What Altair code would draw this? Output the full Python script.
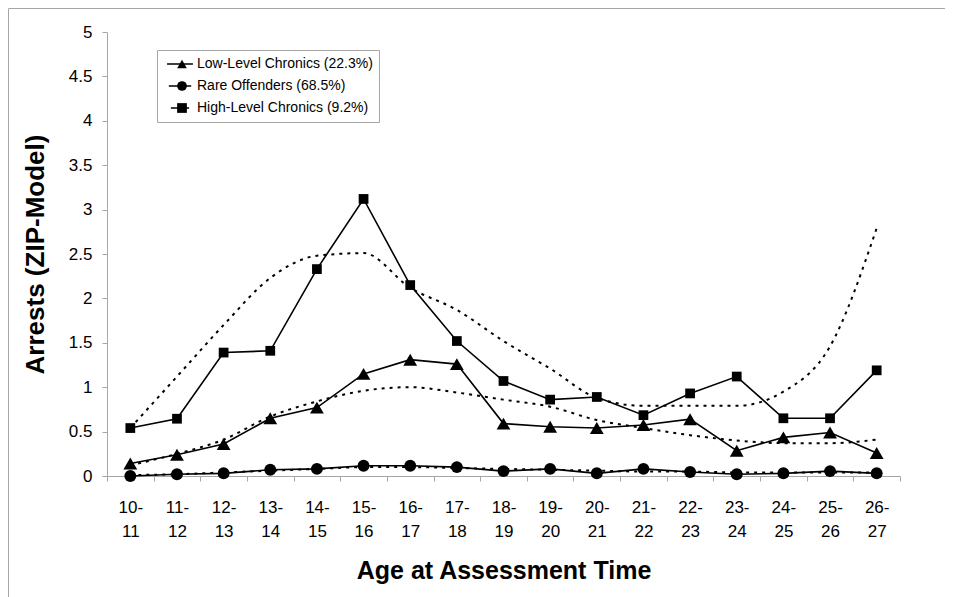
import altair as alt
import pandas as pd

categories = ["10-11", "11-12", "12-13", "13-14", "14-15", "15-16", "16-17", "17-18",
              "18-19", "19-20", "20-21", "21-22", "22-23", "23-24", "24-25", "25-26", "26-27"]

groups = ["Low-Level Chronics (22.3%)", "Rare Offenders (68.5%)", "High-Level Chronics (9.2%)"]

low_observed = [0.14, 0.24, 0.36, 0.65, 0.77, 1.15, 1.31, 1.26, 0.59, 0.555, 0.54, 0.575, 0.64, 0.285, 0.435, 0.49, 0.26]
rare_observed = [0.0, 0.02, 0.03, 0.07, 0.08, 0.115, 0.115, 0.10, 0.055, 0.08, 0.03, 0.08, 0.045, 0.02, 0.03, 0.055, 0.03]
high_observed = [0.54, 0.645, 1.39, 1.41, 2.33, 3.12, 2.15, 1.52, 1.07, 0.86, 0.89, 0.685, 0.93, 1.12, 0.65, 0.65, 1.19]

low_predicted = [0.12, 0.25, 0.41, 0.67, 0.84, 0.96, 1.0, 0.94, 0.86, 0.78, 0.63, 0.54, 0.46, 0.40, 0.37, 0.37, 0.41]
rare_predicted = [0.01, 0.02, 0.04, 0.06, 0.08, 0.10, 0.10, 0.09, 0.08, 0.07, 0.06, 0.05, 0.05, 0.04, 0.04, 0.04, 0.04]
high_predicted = [0.54, 1.12, 1.70, 2.23, 2.48, 2.51, 2.12, 1.87, 1.52, 1.21, 0.88, 0.79, 0.79, 0.79, 0.95, 1.46, 2.79]

observed = {groups[0]: low_observed, groups[1]: rare_observed, groups[2]: high_observed}
predicted = {groups[0]: low_predicted, groups[1]: rare_predicted, groups[2]: high_predicted}

rows = []
for g in groups:
    for c, v in zip(categories, observed[g]):
        rows.append({"group": g, "age": c, "value": v, "kind": "observed"})
    for c, v in zip(categories, predicted[g]):
        rows.append({"group": g, "age": c, "value": v, "kind": "predicted"})
df = pd.DataFrame(rows)

W, H = 793, 444
PAD_L, PAD_T, PAD_R, PAD_B = 99, 24, 45, 121
GRAY = "#a6a6a6"
LEG_X, LEG_Y = 50, 18

x_enc = alt.X("age:N", sort=categories,
              scale=alt.Scale(paddingInner=0, paddingOuter=0),
              axis=alt.Axis(title="Age at Assessment Time", labelAngle=0,
                            labelExpr="datum.label ? [split(datum.label, '-')[0] + '-', split(datum.label, '-')[1]] : ''",
                            labelFontSize=17, labelLineHeight=24, labelPadding=18,
                            labelBaseline="top",
                            tickBand="extent", tickSize=5, tickColor=GRAY,
                            domainColor=GRAY, titleFontSize=25, titleFontWeight="bold",
                            titlePadding=19, labelColor="black", titleColor="black"))
y_enc = alt.Y("value:Q", scale=alt.Scale(domain=[0, 5], nice=False),
              axis=alt.Axis(title="Arrests (ZIP-Model)", values=[i * 0.5 for i in range(11)],
                            format=".1~f", labelFontSize=17, labelPadding=10,
                            tickSize=5, tickColor=GRAY, domainColor=GRAY, grid=False,
                            titleFontSize=26, titleFontWeight="bold", titlePadding=20,
                            labelColor="black", titleColor="black"))

base = alt.Chart(df)

pred = base.transform_filter(alt.datum.kind == "predicted").mark_line(
    color="black", strokeWidth=2, strokeDash=[3, 5], interpolate="monotone"
).encode(x=x_enc, y=y_enc, detail="group:N")

obs = base.transform_filter(alt.datum.kind == "observed").mark_line(
    color="black", strokeWidth=1.6
).encode(x=x_enc, y=y_enc, detail="group:N")

# legend A: long line symbols with labels and the box
leg_lines = base.transform_filter("false").mark_line(strokeWidth=1.5).encode(
    x=x_enc, y=y_enc,
    color=alt.Color("group:N", scale=alt.Scale(domain=groups, range=["black", "black", "black"]),
                    legend=alt.Legend(title=None, orient="none", legendX=LEG_X, legendY=LEG_Y,
                                      symbolType="M-1.875,0L1.875,0", symbolSize=256,
                                      symbolStrokeWidth=1.5,
                                      symbolOffset=9, clipHeight=16, rowPadding=6, padding=6,
                                      labelFontSize=14, labelColor="black", labelOffset=9,
                                      labelLimit=400, strokeColor=GRAY)),
)

# legend B: markers laid over the line symbols (from the point layer);
# its scale domain has an extra unused entry so Vega-Lite keeps it as a separate legend
marker_domain = groups + ["(unused)"]
pts = base.transform_filter(alt.datum.kind == "observed").mark_point(
    filled=True, color="black", opacity=1
).encode(
    x=x_enc, y=y_enc,
    shape=alt.Shape("group:N",
                    scale=alt.Scale(domain=marker_domain, range=["triangle-up", "circle", "square", "circle"]),
                    legend=alt.Legend(title=None, orient="none", legendX=LEG_X, legendY=LEG_Y,
                                      values=groups,
                                      symbolSize=95, symbolOffset=12, clipHeight=16, rowPadding=6,
                                      padding=6, labelExpr="''", labelFontSize=14,
                                      symbolFillColor="black", symbolStrokeColor="black",
                                      symbolStrokeWidth=0, symbolOpacity=1)),
    size=alt.Size("group:N", scale=alt.Scale(domain=groups, range=[190, 95, 150]), legend=None),
)

frame_top = alt.Chart(pd.DataFrame({"a": [0]})).mark_rule(color=GRAY, strokeWidth=1).encode(
    x=alt.value(-PAD_L + 0.5), x2=alt.value(W + PAD_R), y=alt.value(-PAD_T + 0.5))
frame_left = alt.Chart(pd.DataFrame({"a": [0]})).mark_rule(color=GRAY, strokeWidth=1).encode(
    x=alt.value(-PAD_L + 0.5), y=alt.value(-PAD_T + 0.5), y2=alt.value(H + PAD_B))

chart = alt.layer(frame_top, frame_left, pred, obs, leg_lines, pts).properties(
    width=W, height=H,
    autosize=alt.AutoSizeParams(type="none"),
    padding={"left": PAD_L, "top": PAD_T, "right": PAD_R, "bottom": PAD_B},
).configure(font="Liberation Sans, Arial, sans-serif").configure_view(stroke=None)

chart.save("out.html", embed_options={"renderer": "svg", "actions": False})
